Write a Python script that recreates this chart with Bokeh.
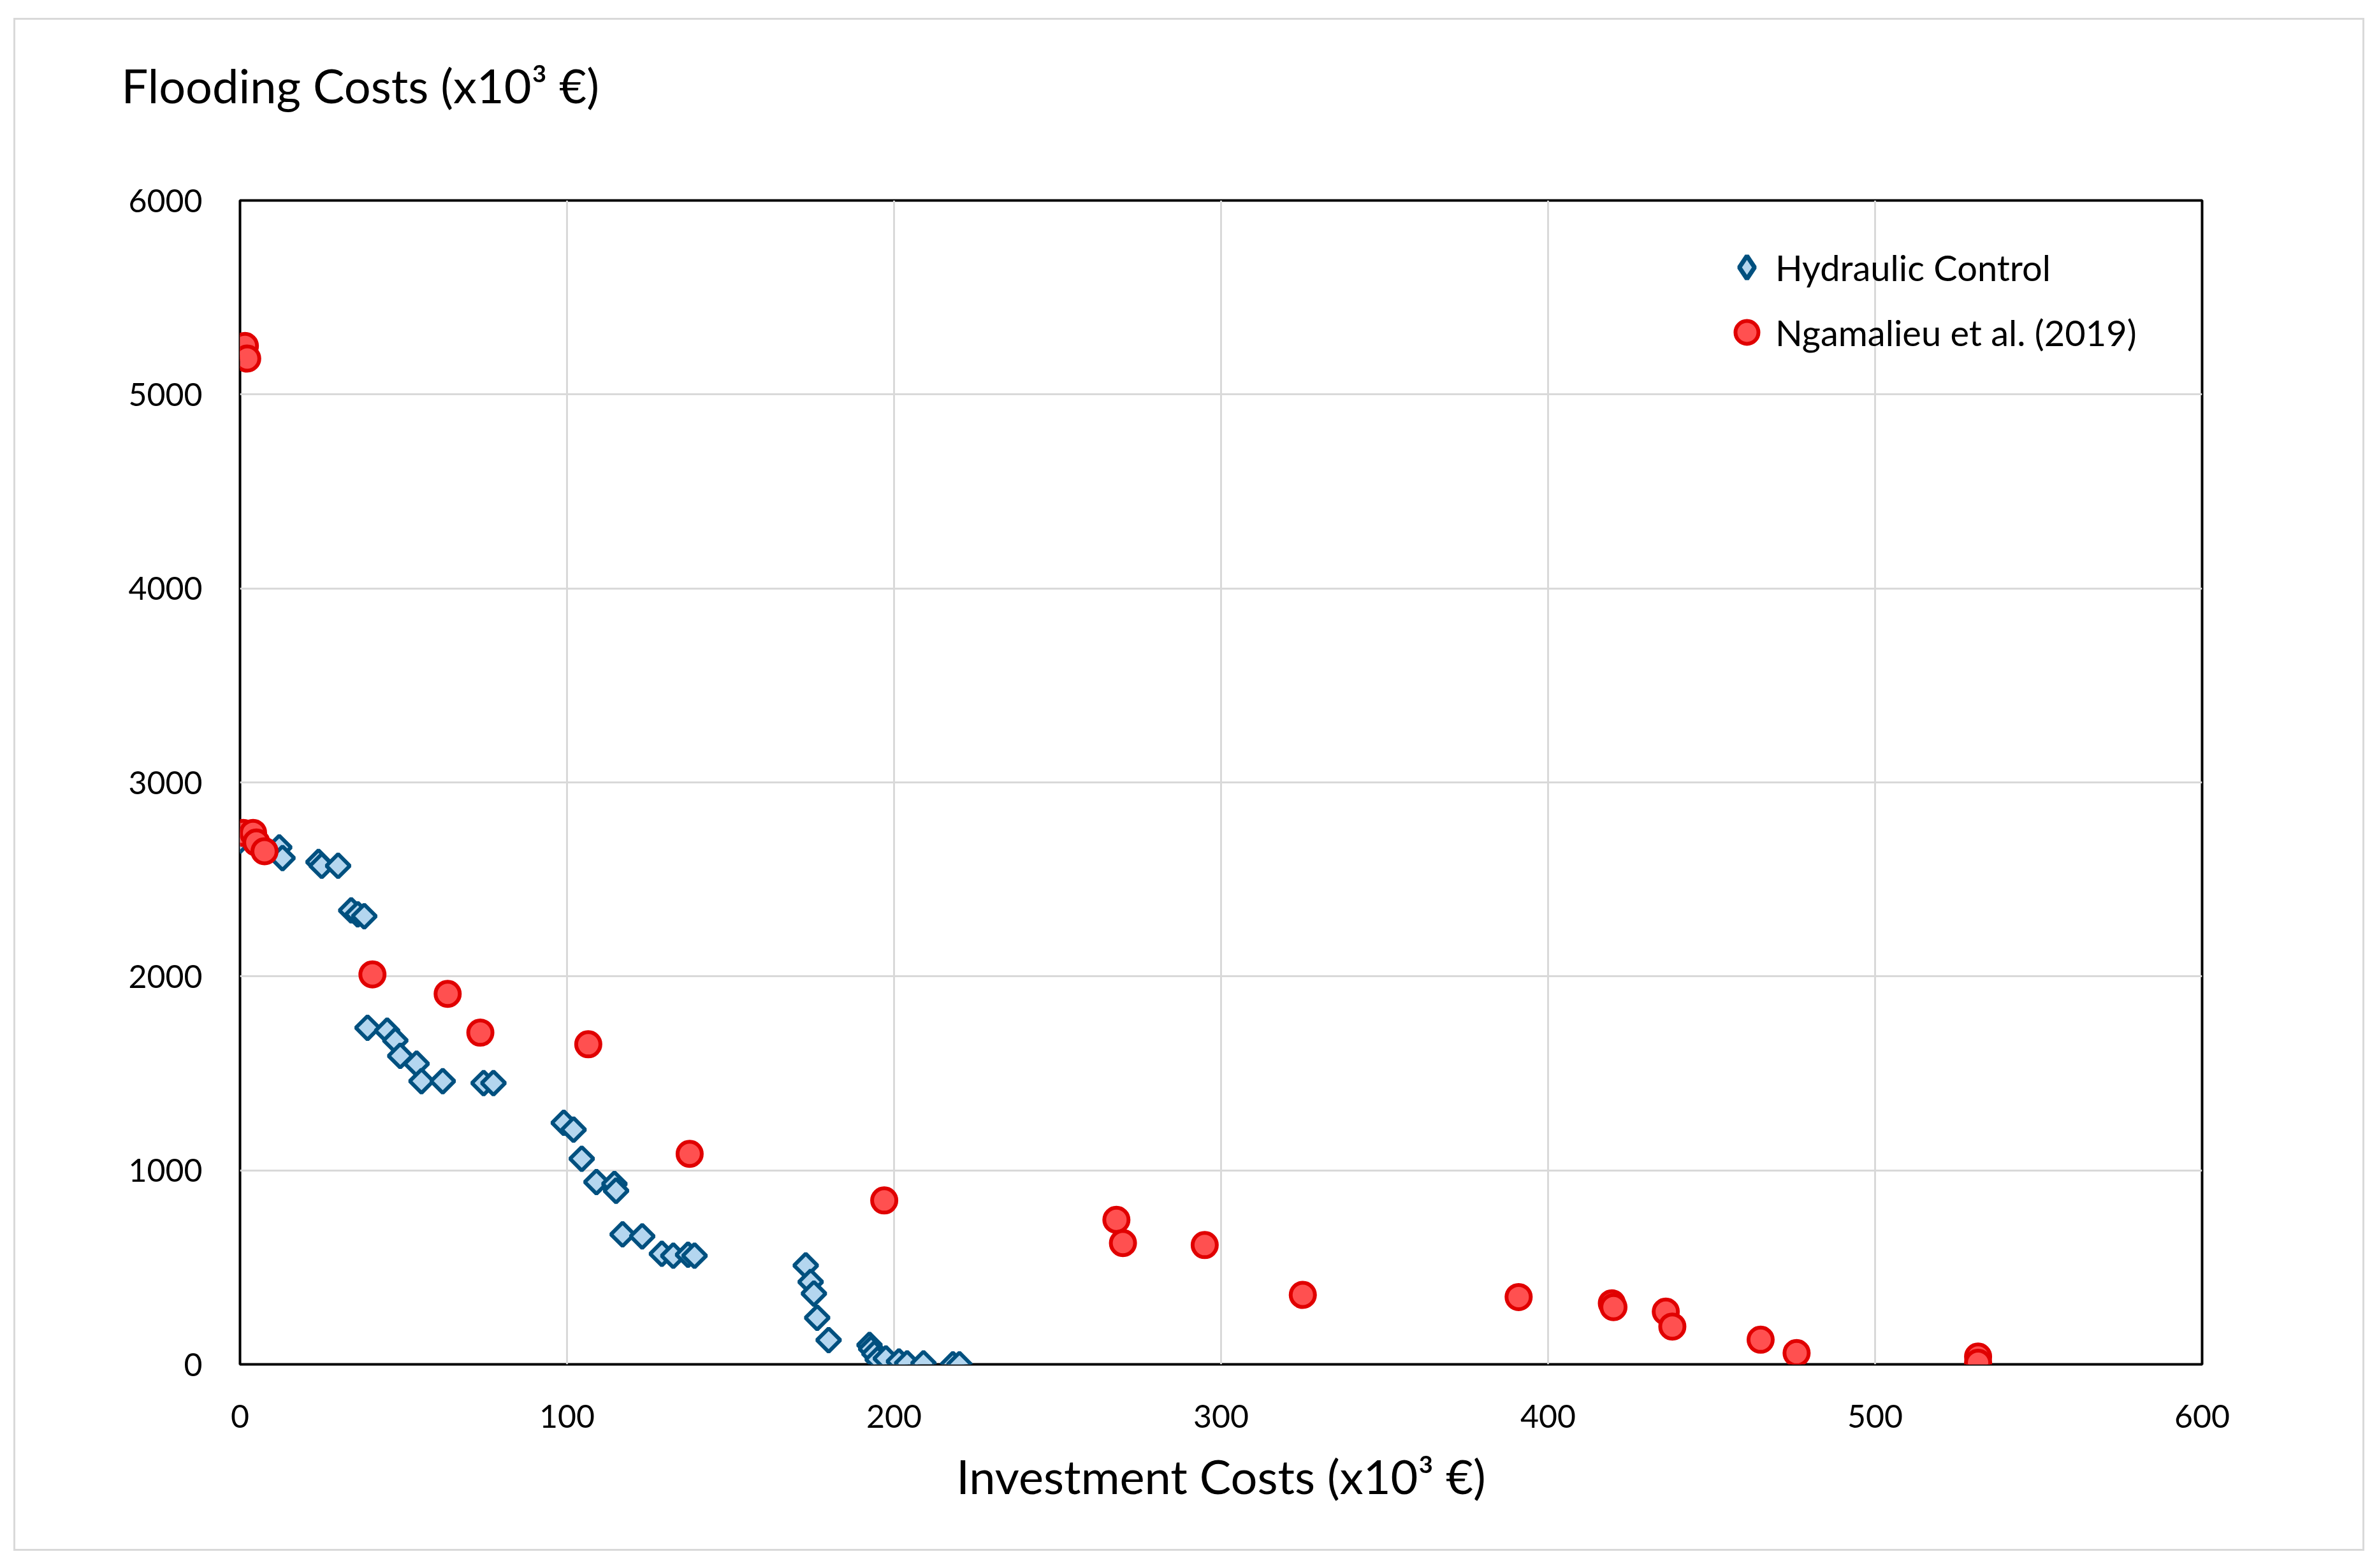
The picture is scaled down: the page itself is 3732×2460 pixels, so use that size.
# Flooding costs vs investment costs - scatter of two solution sets
import numpy as np
from bokeh.plotting import figure
from bokeh.models import Range1d, Legend, LegendItem, Title
from bokeh.embed import file_html
from bokeh.resources import INLINE

# Hydraulic Control (x10^3 EUR)
hc_invest = [0, 12, 13, 24, 25, 30, 34, 36, 38, 39, 45, 47.5, 49, 54, 55.5, 62,
             74.5, 77.5, 99, 102, 104.5, 109, 114.5, 115, 117, 123, 129, 132.5,
             137, 139, 173, 174.5, 175.5, 176.5, 180, 192.5, 193, 194, 195,
             197.5, 201.5, 204, 209, 218, 220]
hc_flood = [2700, 2665, 2610, 2590, 2570, 2570, 2340, 2320, 2310, 1735, 1720,
            1670, 1590, 1550, 1460, 1460, 1450, 1450, 1245, 1210, 1060, 940,
            930, 895, 670, 660, 570, 560, 565, 560, 510, 425, 365, 240, 125,
            100, 80, 55, 25, 30, 15, 5, 5, 0, 0]

# Ngamalieu et al. (2019)
ng_invest = [0, 1.5, 2.2, 1, 4, 5, 7.5, 40.5, 63.5, 73.5, 106.5, 137.5, 197,
             268, 270, 295, 325, 391, 419.5, 420, 436, 438, 465, 476, 531.5, 531.5]
ng_flood = [5245, 5250, 5185, 2740, 2740, 2690, 2645, 2010, 1910, 1710, 1650,
            1085, 845, 745, 625, 615, 358, 347, 315, 295, 272, 195, 127, 58, 40, 8]

x_ticks = [0, 100, 200, 300, 400, 500, 600]
y_ticks = [0, 1000, 2000, 3000, 4000, 5000, 6000]

font = "Lato"

# Create the figure: p
p = figure(width=3682, height=2399,
           x_range=Range1d(0, 600), y_range=Range1d(0, 6000),
           output_backend="svg", toolbar_location=None,
           min_border_left=352, min_border_right=252,
           min_border_top=283, min_border_bottom=290)
p.styles = {"margin-left": "24px", "margin-top": "31px",
            "outline": "3px solid #d9d9d9"}

# blank title next to the frame, only to lift the caption above it
p.add_layout(Title(text=" ", text_font_size="1px", standoff=134), "above")
# horizontal y axis caption
p.add_layout(Title(text="Flooding Costs (x10³ €)", align="left", offset=-186,
                   standoff=0, text_font=font, text_font_size="74px",
                   text_font_style="normal", text_color="black"), "above")

# axes
p.xaxis.ticker = x_ticks
p.yaxis.ticker = y_ticks
p.xaxis.axis_label = "Investment Costs (x10³ €)"
p.xaxis.axis_label_text_font = font
p.xaxis.axis_label_text_font_size = "74px"
p.xaxis.axis_label_text_font_style = "normal"
p.xaxis.axis_label_text_color = "black"
p.xaxis.axis_label_standoff = 28
p.axis.major_label_text_font = font
p.axis.major_label_text_font_size = "50px"
p.axis.major_label_text_color = "black"
p.xaxis.major_label_standoff = 63
p.yaxis.major_label_standoff = 59
p.axis.major_tick_in = 0
p.axis.major_tick_out = 0
p.axis.minor_tick_in = 0
p.axis.minor_tick_out = 0
p.axis.axis_line_color = None

# frame and grid
p.outline_line_color = "black"
p.outline_line_width = 4
p.outline_line_alpha = 1
p.grid.grid_line_color = "#d9d9d9"
p.grid.grid_line_width = 3

# legend key for the diamonds (the legend does not rotate the square),
# drawn first so the real markers cover it
hc_key = p.scatter(hc_invest[:1], hc_flood[:1], marker="diamond", size=24,
                   fill_color="#b4d6ef", line_color="#00507f", line_width=7)

# Hydraulic Control diamonds
hc = p.scatter(hc_invest, hc_flood, marker="square", angle=np.pi / 4, size=26,
               fill_color="#b4d6ef", line_color="#00507f", line_width=6)

# Ngamalieu et al. circles, drawn on top
ng = p.scatter(ng_invest, ng_flood, marker="circle", size=38,
               fill_color="#ff5050", line_color="#e00000", line_width=6)

legend = Legend(items=[LegendItem(label="Hydraulic Control", renderers=[hc_key]),
                       LegendItem(label="Ngamalieu et al. (2019)", renderers=[ng])],
                location=(2319, 1568), padding=0, spacing=0,
                glyph_width=90, glyph_height=102, label_height=102,
                label_standoff=0, border_line_color=None,
                background_fill_alpha=0,
                label_text_font=font, label_text_font_size="56px",
                label_text_color="black")
p.add_layout(legend)

open("out.html", "w").write(file_html(p, INLINE))
